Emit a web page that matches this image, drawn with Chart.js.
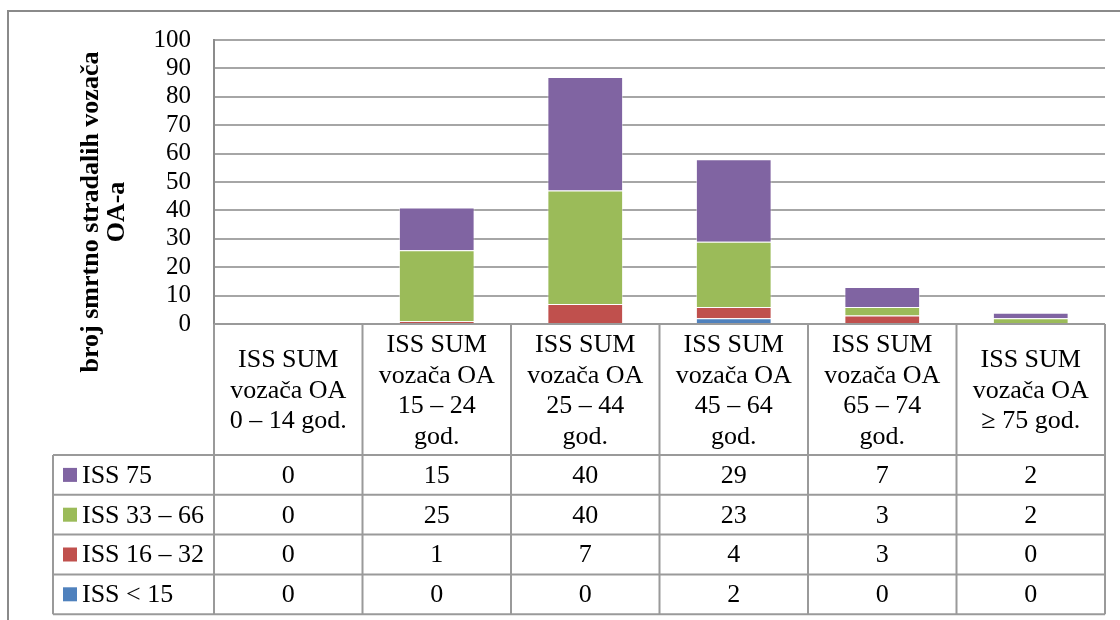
<!DOCTYPE html>
<html>
<head>
<meta charset="utf-8">
<script src="https://cdn.jsdelivr.net/npm/chart.js@4/dist/chart.umd.min.js"></script>
<style>
  html, body { margin: 0; padding: 0; background: #fff; }
  canvas { display: block; }
</style>
</head>
<body>
<canvas id="chart" width="1120" height="620"></canvas>
<script>
// age groups, one header cell each (lines as they wrap in the table)
const categories = [
    ['ISS SUM', 'vozača OA', '0 – 14 god.'],
    ['ISS SUM', 'vozača OA', '15 – 24', 'god.'],
    ['ISS SUM', 'vozača OA', '25 – 44', 'god.'],
    ['ISS SUM', 'vozača OA', '45 – 64', 'god.'],
    ['ISS SUM', 'vozača OA', '65 – 74', 'god.'],
    ['ISS SUM', 'vozača OA', '≥ 75 god.']
];

// stacked from the bottom up
const seriesNames = ['ISS < 15', 'ISS 16 – 32', 'ISS 33 – 66', 'ISS 75'];
const issUnder15 = [0, 0, 0, 2, 0, 0];
const iss16to32 = [0, 1, 7, 4, 3, 0];
const iss33to66 = [0, 25, 40, 23, 3, 2];
const iss75 = [0, 15, 40, 29, 7, 2];
const seriesColors = ['#4F81BD', '#C0504D', '#9BBB59', '#8064A2'];

const yMax = 100;
const yStep = 10;
const axisTitle = ['broj smrtno stradalih vozača', 'OA-a'];

const FONT = '"Liberation Serif", "Times New Roman", serif';
const LINE = '#9a9a9a';

// frame, axis title and the data table under the bars
const dataTable = {
    id: 'dataTable',
    beforeDraw(chart) {
        const ctx = chart.ctx;
        ctx.save();
        ctx.fillStyle = '#fff';
        ctx.fillRect(0, 0, chart.width, chart.height);
        ctx.strokeStyle = '#8a8a8a';
        ctx.lineWidth = 2;
        ctx.beginPath();
        ctx.moveTo(8, chart.height);
        ctx.lineTo(8, 11);
        ctx.lineTo(chart.width, 11);
        ctx.stroke();
        ctx.restore();
    },
    afterDraw(chart) {
        const ctx = chart.ctx;
        const area = chart.chartArea;
        const xScale = chart.scales.x;
        const colW = (area.right - area.left) / categories.length;
        const headBottom = area.bottom + 131;
        const rowH = 39.8;
        const rows = chart.data.datasets.slice().reverse();
        const tableBottom = headBottom + rowH * rows.length;
        const legendLeft = 53;

        ctx.save();

        // axis title, rotated
        ctx.save();
        ctx.translate(0, 212);
        ctx.rotate(-Math.PI / 2);
        ctx.fillStyle = '#000';
        ctx.font = 'bold 26px ' + FONT;
        ctx.textAlign = 'center';
        ctx.textBaseline = 'alphabetic';
        ctx.fillText(axisTitle[0], 0, 98);
        ctx.fillText(axisTitle[1], 0, 124);
        ctx.restore();

        // table lines
        ctx.strokeStyle = LINE;
        ctx.lineWidth = 2;
        ctx.beginPath();
        ctx.moveTo(area.left, area.bottom);
        ctx.lineTo(area.right, area.bottom);
        for (let r = 0; r <= rows.length; r++) {
            const y = headBottom + r * rowH;
            ctx.moveTo(legendLeft, y);
            ctx.lineTo(area.right, y);
        }
        for (let c = 0; c <= categories.length; c++) {
            const x = area.left + c * colW;
            ctx.moveTo(x, area.bottom);
            ctx.lineTo(x, tableBottom);
        }
        ctx.moveTo(legendLeft, headBottom);
        ctx.lineTo(legendLeft, tableBottom);
        ctx.stroke();

        ctx.fillStyle = '#000';
        ctx.textBaseline = 'middle';

        // header cells
        ctx.font = '26px ' + FONT;
        ctx.textAlign = 'center';
        categories.forEach((lines, i) => {
            const cx = xScale.getPixelForValue(i);
            const mid = area.bottom + 67;
            lines.forEach((line, k) => {
                ctx.fillText(line, cx, mid + (k - (lines.length - 1) / 2) * 30.5);
            });
        });

        // value rows with legend keys
        ctx.font = '26px ' + FONT;
        rows.forEach((ds, r) => {
            const cy = headBottom + r * rowH + rowH / 2;
            ctx.fillStyle = ds.backgroundColor;
            ctx.fillRect(63, cy - 7, 14, 14);
            ctx.fillStyle = '#000';
            ctx.textAlign = 'left';
            ctx.fillText(ds.label, 82, cy + 1);
            ctx.textAlign = 'center';
            ds.data.forEach((v, i) => {
                ctx.fillText(String(v), xScale.getPixelForValue(i), cy + 1);
            });
        });

        ctx.restore();
    }
};

const seriesData = [issUnder15, iss16to32, iss33to66, iss75];

new Chart(document.getElementById('chart'), {
    type: 'bar',
    data: {
        labels: categories.map(c => c.join(' ')),
        datasets: seriesNames.map((name, i) => ({
            label: name,
            data: seriesData[i],
            backgroundColor: seriesColors[i],
            borderColor: 'rgba(255,255,255,0.45)',
            borderWidth: 1,
            barPercentage: 0.51,
            categoryPercentage: 1
        }))
    },
    options: {
        responsive: false,
        animation: false,
        layout: { padding: { top: 40, right: 15, bottom: 296, left: 0 } },
        plugins: {
            legend: { display: false },
            tooltip: { enabled: false }
        },
        scales: {
            x: {
                stacked: true,
                display: false
            },
            y: {
                stacked: true,
                min: 0,
                max: yMax,
                ticks: {
                    stepSize: yStep,
                    autoSkip: false,
                    padding: 23,
                    color: '#000',
                    font: { family: FONT, size: 25, lineHeight: 1 }
                },
                grid: { color: '#a6a6a6', lineWidth: 2, drawTicks: false },
                border: { color: '#8c8c8c', width: 2 },
                afterFit(scale) { scale.width = 214; }
            }
        }
    },
    plugins: [dataTable]
});
</script>
</body>
</html>
